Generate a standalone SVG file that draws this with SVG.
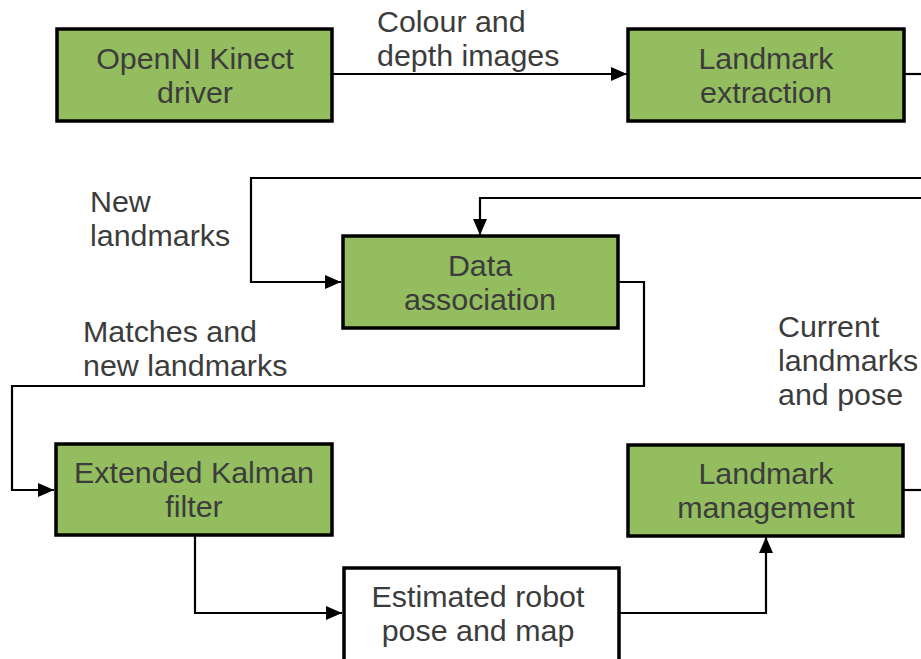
<svg xmlns="http://www.w3.org/2000/svg" width="921" height="659" viewBox="0 0 921 659">
<style>
.box{fill:#93bd5e;stroke:#000;stroke-width:3.5}
.wbox{fill:#fff;stroke:#000;stroke-width:3.5}
.t{font-family:"Liberation Sans",Arial,sans-serif;font-size:30.4px;fill:#3c3c3c}
.c{text-anchor:middle}
.ln{fill:none;stroke:#000;stroke-width:2.2}
</style>
<defs>
<marker id="ah" viewBox="0 0 16 14" refX="16" refY="7" markerWidth="16" markerHeight="14" markerUnits="userSpaceOnUse" orient="auto">
<path d="M0,0 L16,7 L0,14 Z" fill="#000"/>
</marker>
</defs>
<rect width="921" height="659" fill="#fff"/>
<g id="connectors">
<path class="ln" d="M333,74 H627" marker-end="url(#ah)"/>
<path class="ln" d="M904,74 H921"/>
<path class="ln" d="M921,178 H251 V282 H341" marker-end="url(#ah)"/>
<path class="ln" d="M921,198 H480 V235" marker-end="url(#ah)"/>
<path class="ln" d="M619,282 H644 V386 H12 V490 H54" marker-end="url(#ah)"/>
<path class="ln" d="M195,536 V613 H342" marker-end="url(#ah)"/>
<path class="ln" d="M620,613 H766 V537" marker-end="url(#ah)"/>
<path class="ln" d="M904,490 H921"/>
</g>
<g id="labels">
<text class="t" x="377" y="32">Colour and</text>
<text class="t" x="377" y="66">depth images</text>
<text class="t" x="90" y="212">New</text>
<text class="t" x="90" y="246">landmarks</text>
<text class="t" x="83" y="342">Matches and</text>
<text class="t" x="83" y="376">new landmarks</text>
<text class="t" x="778" y="337">Current</text>
<text class="t" x="778" y="371">landmarks</text>
<text class="t" x="778" y="405">and pose</text>
</g>
<g id="openni">
<rect class="box" x="57" y="29" width="275" height="92"/>
<text class="t c" x="195" y="69">OpenNI Kinect</text>
<text class="t c" x="195" y="103">driver</text>
</g>
<g id="extraction">
<rect class="box" x="628" y="29" width="276" height="92"/>
<text class="t c" x="766" y="69">Landmark</text>
<text class="t c" x="766" y="103">extraction</text>
</g>
<g id="association">
<rect class="box" x="343" y="236" width="275" height="92"/>
<text class="t c" x="480" y="276">Data</text>
<text class="t c" x="480" y="310">association</text>
</g>
<g id="ekf">
<rect class="box" x="56" y="444" width="276" height="91"/>
<text class="t c" x="194" y="483">Extended Kalman</text>
<text class="t c" x="194" y="517">filter</text>
</g>
<g id="management">
<rect class="box" x="628" y="445" width="275" height="91"/>
<text class="t c" x="766" y="484">Landmark</text>
<text class="t c" x="766" y="518">management</text>
</g>
<g id="estimate">
<rect class="wbox" x="344" y="568" width="275" height="94"/>
<text class="t c" x="478" y="607">Estimated robot</text>
<text class="t c" x="478" y="641">pose and map</text>
</g>
</svg>
